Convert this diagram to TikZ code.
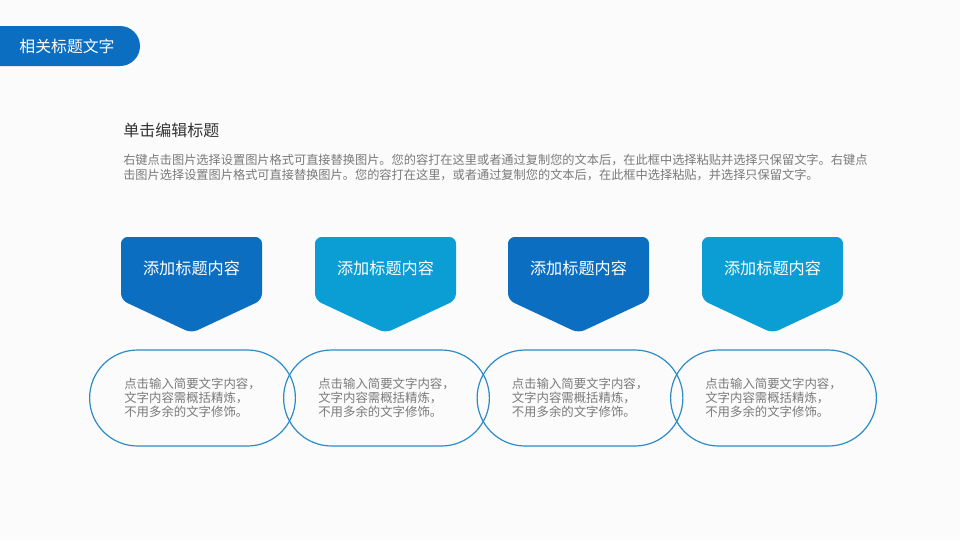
\documentclass[tikz,border=0pt]{standalone}
\usepackage{fontspec}
\setmainfont{Noto Sans CJK SC}
\usetikzlibrary{positioning,shapes.misc}
\definecolor{darkblue}{HTML}{0B6EC1}
\definecolor{lightblue}{HTML}{0A9ED5}
\definecolor{ringblue}{HTML}{2C8CC8}
\definecolor{headgray}{HTML}{333333}
\definecolor{textgray}{HTML}{7A7A7A}
\definecolor{paper}{HTML}{FBFBFB}

\begin{document}
\begin{tikzpicture}[
  x=0.75pt,
  y=-0.75pt,
  bannertext/.style={text=white, inner sep=0pt, font=\fontsize{11.9}{14}\selectfont},
  tag/.style={rounded corners=5pt},
  tagtext/.style={text=white, inner sep=0pt, font=\fontsize{12.1}{14}\selectfont},
  pill/.style={
    draw=ringblue,
    line width=0.9pt,
    rounded rectangle,
    minimum width=161pt,
    minimum height=72pt,
    align=left,
    text=textgray,
    font=\fontsize{9.3}{10.5}\selectfont
  },
  para/.style={anchor=west, inner sep=0pt, text=textgray, font=\fontsize{9.15}{11}\selectfont}
]
\useasboundingbox (0,0) rectangle (960,540);
\fill[paper] (0,0) rectangle (960,540);

% title bar
\fill[darkblue, rounded corners=15pt] (-40,26) rectangle (140,66);
\node[bannertext] (title) at (67,46) {相关标题文字};

% heading and paragraph
\node[anchor=west, inner sep=0pt, text=headgray, font=\fontsize{12}{14}\selectfont] (head) at (123,130) {单击编辑标题};
\node[para] (line1) at (123,160) {右键点击图片选择设置图片格式可直接替换图片。您的容打在这里或者通过复制您的文本后，在此框中选择粘贴并选择只保留文字。右键点};
\node[para] (line2) at (123,175) {击图片选择设置图片格式可直接替换图片。您的容打在这里，或者通过复制您的文本后，在此框中选择粘贴，并选择只保留文字。};

% tags
\fill[darkblue, tag] (191.5,237) -- (262,237) -- (262,300) -- (191.5,333) -- (121,300) -- (121,237) -- cycle;
\fill[lightblue, tag] (385.5,237) -- (456,237) -- (456,300) -- (385.5,333) -- (315,300) -- (315,237) -- cycle;
\fill[darkblue, tag] (578.5,237) -- (649,237) -- (649,300) -- (578.5,333) -- (508,300) -- (508,237) -- cycle;
\fill[lightblue, tag] (772.5,237) -- (843,237) -- (843,300) -- (772.5,333) -- (702,300) -- (702,237) -- cycle;

\node[tagtext] (t1) at (191.5,268) {添加标题内容};
\node[tagtext] (t2) at (385.5,268) {添加标题内容};
\node[tagtext] (t3) at (578.5,268) {添加标题内容};
\node[tagtext] (t4) at (772.5,268) {添加标题内容};

% rings
\node[pill] (p1) at (192.5,398) {点击输入简要文字内容，\\文字内容需概括精炼，\\不用多余的文字修饰。};
\node[pill] (p2) at (386.5,398) {点击输入简要文字内容，\\文字内容需概括精炼，\\不用多余的文字修饰。};
\node[pill] (p3) at (580,398) {点击输入简要文字内容，\\文字内容需概括精炼，\\不用多余的文字修饰。};
\node[pill] (p4) at (773.5,398) {点击输入简要文字内容，\\文字内容需概括精炼，\\不用多余的文字修饰。};
\end{tikzpicture}
\end{document}
